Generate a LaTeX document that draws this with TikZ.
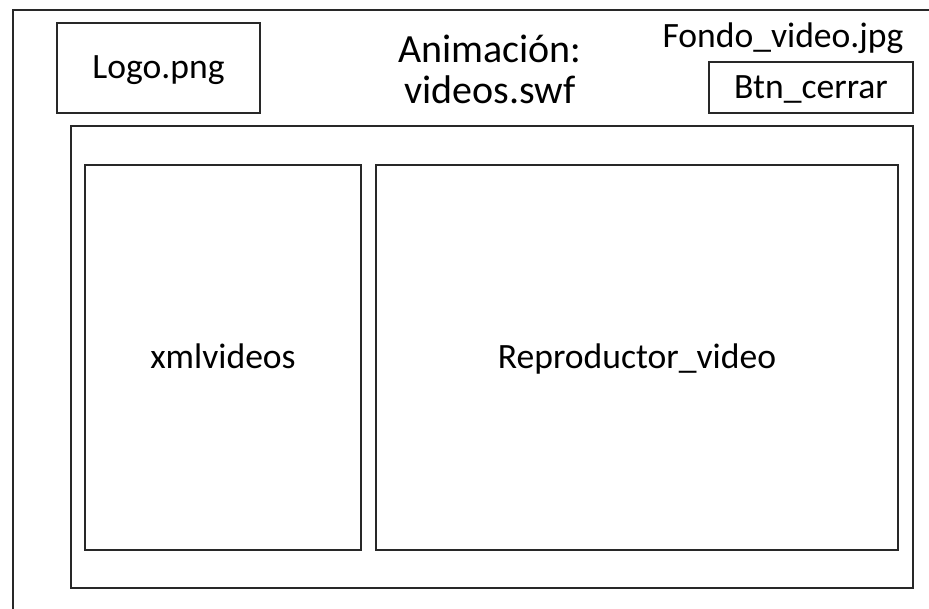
\documentclass[tikz,border=0pt]{standalone}
\usepackage{fontspec}
\setmainfont{Carlito}
\usepackage{tikz}
\usetikzlibrary{positioning}
\definecolor{framegray}{RGB}{40,40,40}

\begin{document}
\begin{tikzpicture}[
    x=1pt, y=-1pt,
    every node/.style={font=\fontsize{35.6}{40}\selectfont, text=black},
    panel/.style={
        rectangle,
        draw=framegray,
        line width=1.9pt,
        inner sep=0pt,
        text height=21pt,
        text depth=0pt
    },
    caption/.style={inner sep=0pt, anchor=base},
    frame/.style={draw=framegray, line width=1.9pt}
]

\useasboundingbox (0,0) rectangle (929,608);
\clip (0,0) rectangle (929,608);

% outer window, cut off at right and bottom
\draw[frame] (13,640) -- (13,10) -- (960,10);

% header
\node[panel, minimum width=203pt, minimum height=90pt] (logo) at (158.5,68) {Logo.png};
\node[caption, font=\fontsize{40}{41}\selectfont] (titulo) at (490,62) {Animación:};
\node[caption, font=\fontsize{40}{41}\selectfont] (titulofile) at (490,103) {videos.swf};
\node[caption] (fondo) at (783,47) {Fondo\_video.jpg};
\node[panel, minimum width=204pt, minimum height=51pt] (cerrar) at (811,87.5) {Btn\_cerrar};

% content area
\node[panel, minimum width=842pt, minimum height=462pt] (contenido) at (492,357) {};
\node[panel, minimum width=276pt, minimum height=385pt] (lista) at (223,357.5) {xmlvideos};
\node[panel, minimum width=522pt, minimum height=385pt] (reproductor) at (637,357.5) {Reproductor\_video};

\end{tikzpicture}
\end{document}
